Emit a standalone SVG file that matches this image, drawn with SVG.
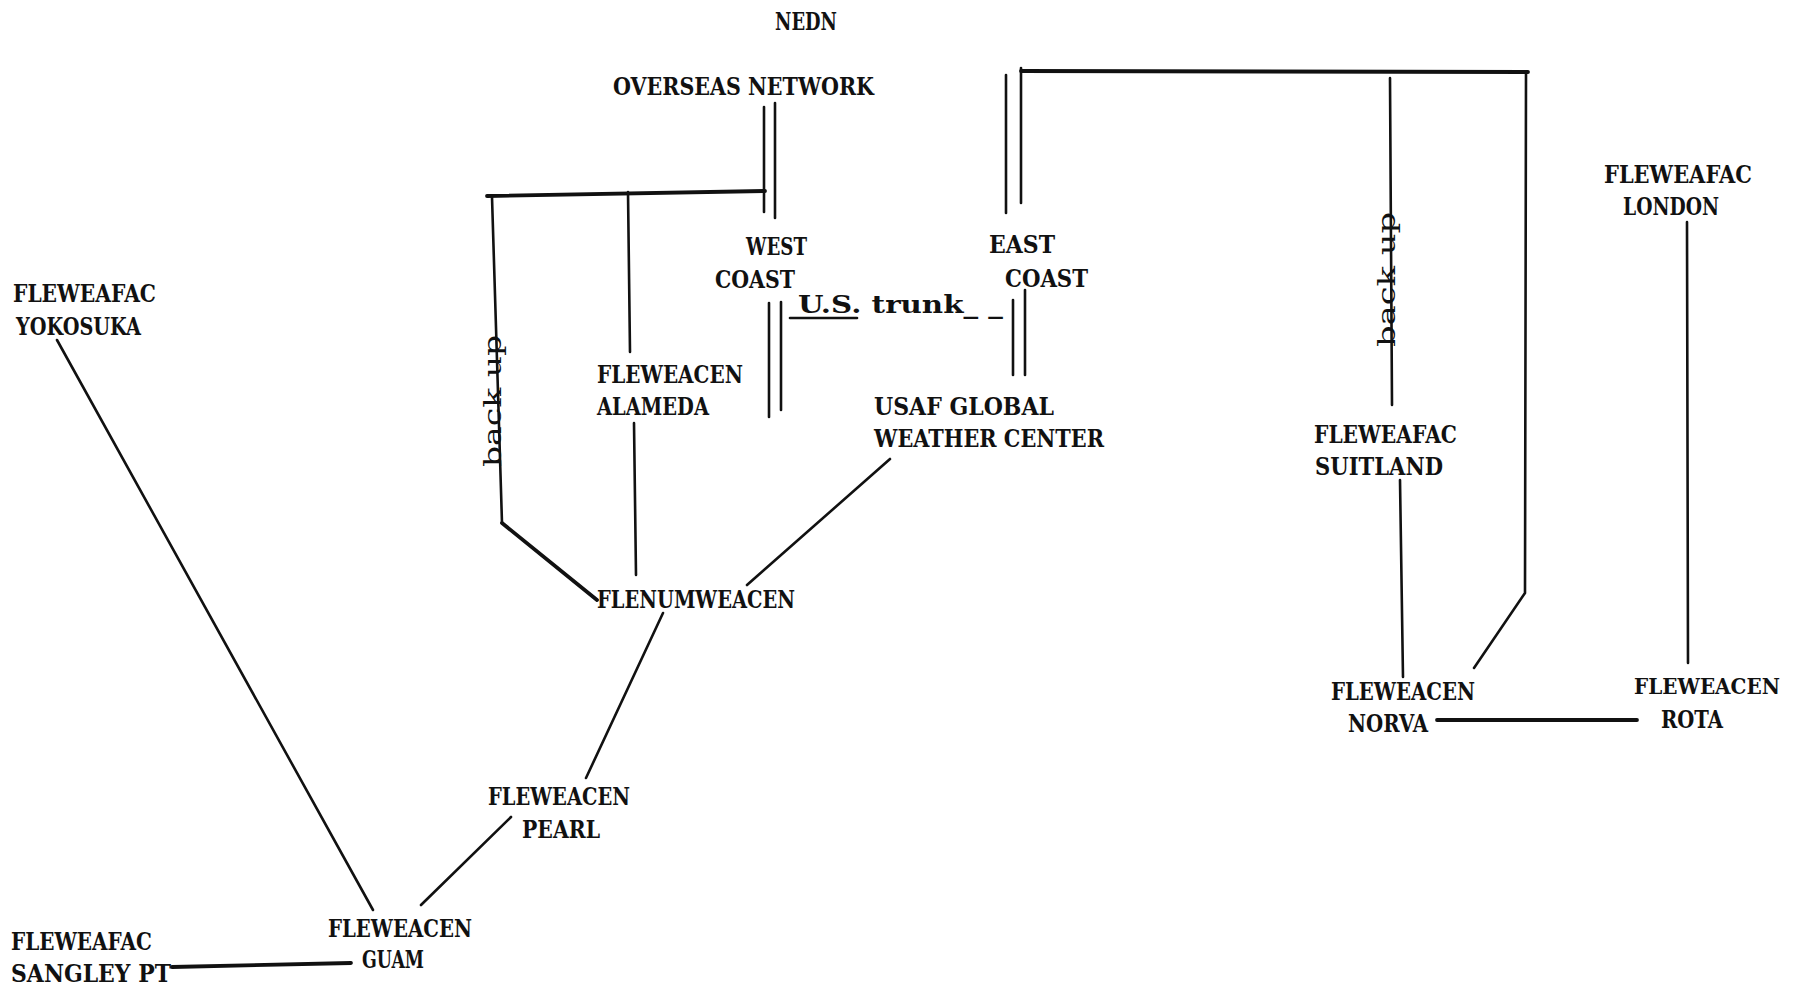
<svg xmlns="http://www.w3.org/2000/svg" width="1801" height="990" viewBox="0 0 1801 990">
<style>
text{font-family:"DejaVu Serif","Liberation Serif",serif;font-size:25px;font-weight:bold;fill:#111;}
.c line,.c polyline{stroke:#111;stroke-width:2.6;fill:none;stroke-linecap:round;stroke-linejoin:round;}
.c .t{stroke-width:3.8;}
.bu{font-weight:normal;font-size:25px;}
</style>
<rect width="1801" height="990" fill="#fff"/>
<g class="c" id="connectors">
<line x1="764" y1="107" x2="764" y2="212"/>
<line x1="775" y1="103" x2="775" y2="218"/>
<line class="t" x1="487" y1="196" x2="765" y2="191"/>
<line x1="492" y1="197" x2="502" y2="523"/>
<line class="t" x1="502" y1="523" x2="597" y2="600"/>
<line x1="628" y1="192" x2="630" y2="352"/>
<line x1="634" y1="423" x2="636" y2="575"/>
<line x1="769" y1="303" x2="769" y2="417"/>
<line x1="781" y1="302" x2="781" y2="410"/>
<line x1="1006" y1="75" x2="1006" y2="213"/>
<line x1="1021" y1="68" x2="1021" y2="203"/>
<line class="t" x1="1021" y1="71" x2="1528" y2="72"/>
<polyline points="1526,73 1525,593 1474,668"/>
<line x1="1390" y1="78" x2="1392" y2="405"/>
<line x1="1400" y1="480" x2="1403" y2="677"/>
<line x1="1687" y1="222" x2="1688" y2="663"/>
<line class="t" x1="1437" y1="720" x2="1637" y2="720"/>
<line x1="1013" y1="300" x2="1013" y2="375"/>
<line x1="1025" y1="290" x2="1025" y2="375"/>
<line x1="890" y1="459" x2="747" y2="585"/>
<line x1="663" y1="613" x2="586" y2="778"/>
<line x1="511" y1="817" x2="421" y2="905"/>
<line x1="57" y1="340" x2="373" y2="910"/>
<line class="t" x1="172" y1="967" x2="351" y2="963"/>
<line x1="790" y1="318" x2="857" y2="318"/>
</g>
<g id="nedn"><text x="775" y="30" textLength="62" lengthAdjust="spacingAndGlyphs">NEDN</text></g>
<g id="overseas"><text x="613" y="95" textLength="261" lengthAdjust="spacingAndGlyphs">OVERSEAS NETWORK</text></g>
<g id="westcoast">
<text x="746" y="255" textLength="61" lengthAdjust="spacingAndGlyphs">WEST</text>
<text x="715" y="288" textLength="80" lengthAdjust="spacingAndGlyphs">COAST</text>
</g>
<g id="trunk"><text x="798" y="313" textLength="205" lengthAdjust="spacingAndGlyphs">U.S. trunk_ _</text></g>
<g id="eastcoast">
<text x="989" y="253" textLength="66" lengthAdjust="spacingAndGlyphs">EAST</text>
<text x="1005" y="287" textLength="83" lengthAdjust="spacingAndGlyphs">COAST</text>
</g>
<g id="yokosuka">
<text x="13" y="302" textLength="143" lengthAdjust="spacingAndGlyphs">FLEWEAFAC</text>
<text x="16" y="335" textLength="125" lengthAdjust="spacingAndGlyphs">YOKOSUKA</text>
</g>
<g id="backup1"><text class="bu" transform="translate(501,467) rotate(-90)" x="0" y="0" textLength="132" lengthAdjust="spacingAndGlyphs">back up</text></g>
<g id="alameda">
<text x="597" y="383" textLength="146" lengthAdjust="spacingAndGlyphs">FLEWEACEN</text>
<text x="597" y="415" textLength="112" lengthAdjust="spacingAndGlyphs">ALAMEDA</text>
</g>
<g id="usaf">
<text x="874" y="415" textLength="180" lengthAdjust="spacingAndGlyphs">USAF GLOBAL</text>
<text x="874" y="447" textLength="230" lengthAdjust="spacingAndGlyphs">WEATHER CENTER</text>
</g>
<g id="flenumweacen"><text x="597" y="608" textLength="198" lengthAdjust="spacingAndGlyphs">FLENUMWEACEN</text></g>
<g id="pearl">
<text x="488" y="805" textLength="142" lengthAdjust="spacingAndGlyphs">FLEWEACEN</text>
<text x="522" y="838" textLength="78" lengthAdjust="spacingAndGlyphs">PEARL</text>
</g>
<g id="guam">
<text x="328" y="937" textLength="144" lengthAdjust="spacingAndGlyphs">FLEWEACEN</text>
<text x="362" y="968" textLength="62" lengthAdjust="spacingAndGlyphs">GUAM</text>
</g>
<g id="sangley">
<text x="11" y="950" textLength="141" lengthAdjust="spacingAndGlyphs">FLEWEAFAC</text>
<text x="11" y="982" textLength="160" lengthAdjust="spacingAndGlyphs">SANGLEY PT</text>
</g>
<g id="backup2"><text class="bu" transform="translate(1395,347) rotate(-90)" x="0" y="0" textLength="135" lengthAdjust="spacingAndGlyphs">back up</text></g>
<g id="suitland">
<text x="1314" y="443" textLength="143" lengthAdjust="spacingAndGlyphs">FLEWEAFAC</text>
<text x="1315" y="475" textLength="128" lengthAdjust="spacingAndGlyphs">SUITLAND</text>
</g>
<g id="london">
<text x="1604" y="183" textLength="148" lengthAdjust="spacingAndGlyphs">FLEWEAFAC</text>
<text x="1623" y="215" textLength="96" lengthAdjust="spacingAndGlyphs">LONDON</text>
</g>
<g id="norva">
<text x="1331" y="700" textLength="144" lengthAdjust="spacingAndGlyphs">FLEWEACEN</text>
<text x="1348" y="732" textLength="80" lengthAdjust="spacingAndGlyphs">NORVA</text>
</g>
<g id="rota">
<text x="1634" y="694" style="font-size:23px" textLength="146" lengthAdjust="spacingAndGlyphs">FLEWEACEN</text>
<text x="1661" y="728" textLength="62" lengthAdjust="spacingAndGlyphs">ROTA</text>
</g>
</svg>
